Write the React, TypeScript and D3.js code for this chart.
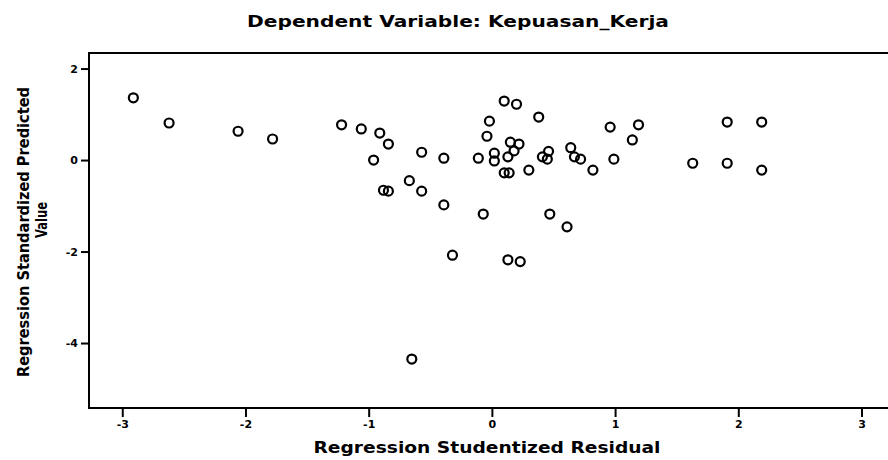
import React, { useEffect, useRef } from 'react';
import * as d3 from 'd3';

const residual = [
  -2.91, -2.62, -2.06, -1.78, -1.22, -1.06, -0.91, -0.84, -0.96, -0.57,
  -0.39, -0.11, -0.88, -0.84, -0.67, -0.57, -0.39, -0.07, -0.32, -0.65,
  -0.02, -0.04, 0.10, 0.20, 0.38, 0.15, 0.22, 0.18, 0.02, 0.02,
  0.13, 0.10, 0.14, 0.30, 0.46, 0.41, 0.45, 0.64, 0.67, 0.72,
  0.82, 0.47, 0.61, 0.13, 0.23, 0.96, 1.19, 1.14, 0.99, 1.91,
  2.19, 1.63, 1.91, 2.19,
];
const predicted = [
  1.36, 0.81, 0.63, 0.46, 0.77, 0.68, 0.59, 0.35, 0.0, 0.17,
  0.04, 0.04, -0.66, -0.68, -0.45, -0.68, -0.98, -1.18, -2.08, -4.35,
  0.85, 0.52, 1.29, 1.22, 0.94, 0.39, 0.35, 0.20, 0.15, -0.02,
  0.07, -0.28, -0.28, -0.22, 0.19, 0.07, 0.02, 0.27, 0.07, 0.02,
  -0.22, -1.18, -1.46, -2.18, -2.22, 0.72, 0.77, 0.44, 0.02, 0.83,
  0.83, -0.07, -0.07, -0.22,
];
const xTicks = [-3, -2, -1, 0, 1, 2, 3];
const yTicks = [2, 0, -2, -4];

const App = () => {
  const ref = useRef<SVGSVGElement>(null);

  useEffect(() => {
    const svg = d3.select(ref.current);
    svg.selectAll('*').remove();

    // plot box runs off the right edge of the picture, like the scan
    const left = 89, right = 896, top = 53, bottom = 408;
    const x = d3.scaleLinear().domain([-3.27, 3.28]).range([left, right]);
    const y = d3.scaleLinear().domain([-5.42, 2.34]).range([bottom, top]);
    const font = '"DejaVu Sans", "Liberation Sans", Arial, sans-serif';

    svg.append('text')
      .attr('x', 458).attr('y', 27)
      .attr('text-anchor', 'middle')
      .attr('font-family', font).attr('font-weight', 'bold').attr('font-size', 15)
      .attr('textLength', 422).attr('lengthAdjust', 'spacingAndGlyphs')
      .text('Dependent Variable: Kepuasan_Kerja');

    svg.append('rect')
      .attr('x', left).attr('y', top)
      .attr('width', right - left).attr('height', bottom - top)
      .attr('fill', 'none').attr('stroke', 'black').attr('stroke-width', 2);

    const xAxis = svg.append('g')
      .attr('transform', `translate(0,${bottom})`)
      .call(d3.axisBottom(x).tickValues(xTicks).tickSize(9).tickPadding(3).tickFormat(d => String(d)));
    xAxis.select('.domain').remove();

    const yAxis = svg.append('g')
      .attr('transform', `translate(${left},0)`)
      .call(d3.axisLeft(y).tickValues(yTicks).tickSize(8).tickPadding(3).tickFormat(d => String(d)));
    yAxis.select('.domain').remove();

    svg.selectAll('.tick line').attr('stroke', 'black').attr('stroke-width', 2);
    svg.selectAll('.tick text')
      .attr('font-family', font).attr('font-weight', 'bold').attr('font-size', 11).attr('fill', 'black');

    svg.append('text')
      .attr('x', 487).attr('y', 453)
      .attr('text-anchor', 'middle')
      .attr('font-family', font).attr('font-weight', 'bold').attr('font-size', 15)
      .attr('textLength', 347).attr('lengthAdjust', 'spacingAndGlyphs')
      .text('Regression Studentized Residual');

    svg.append('text')
      .attr('transform', 'translate(29,232) rotate(-90)')
      .attr('text-anchor', 'middle')
      .attr('font-family', font).attr('font-weight', 'bold').attr('font-size', 15)
      .attr('textLength', 290).attr('lengthAdjust', 'spacingAndGlyphs')
      .text('Regression Standardized Predicted');

    svg.append('text')
      .attr('transform', 'translate(47,220) rotate(-90)')
      .attr('text-anchor', 'middle')
      .attr('font-family', font).attr('font-weight', 'bold').attr('font-size', 15)
      .attr('textLength', 36).attr('lengthAdjust', 'spacingAndGlyphs')
      .text('Value');

    svg.append('g')
      .selectAll('circle')
      .data(d3.range(residual.length))
      .join('circle')
      .attr('cx', i => x(residual[i]))
      .attr('cy', i => y(predicted[i]))
      .attr('r', 4.5)
      .attr('fill', 'none')
      .attr('stroke', 'black')
      .attr('stroke-width', 2.2);
  }, []);

  return <svg ref={ref} width={888} height={460} style={{ position: 'absolute', left: 0, top: 0 }} />;
};

export default App;
